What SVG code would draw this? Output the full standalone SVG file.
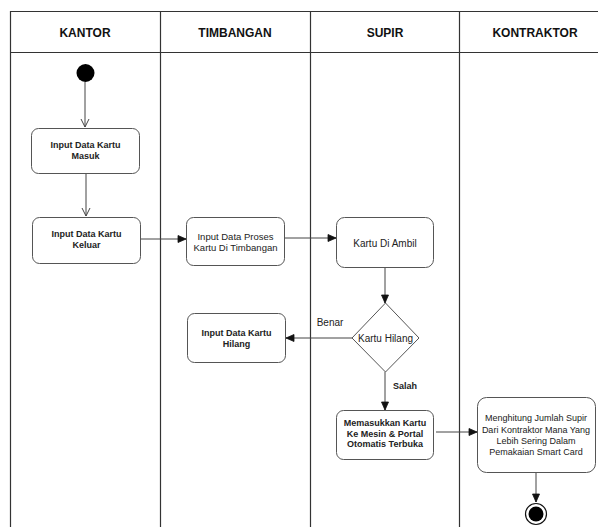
<svg xmlns="http://www.w3.org/2000/svg" width="598" height="527" viewBox="0 0 598 527">
<style>
.lane{fill:none;stroke:#333;stroke-width:1.2}
.hdr{font-family:"Liberation Sans",Arial,sans-serif;font-size:12px;font-weight:bold;fill:#111;text-anchor:middle}
.box{fill:#fff;stroke:#555;stroke-width:1}
.tb{font-family:"Liberation Sans",Arial,sans-serif;font-size:9px;font-weight:bold;fill:#222;text-anchor:middle}
.tn{font-family:"Liberation Sans",Arial,sans-serif;font-size:10px;fill:#222;text-anchor:middle}
.edge{fill:none;stroke:#444;stroke-width:1}
</style>
<defs>
<marker id="open" markerWidth="10" markerHeight="10" refX="9" refY="5" orient="auto" markerUnits="userSpaceOnUse">
<path d="M1,1 L9,5 L1,9" fill="none" stroke="#444" stroke-width="1"/>
</marker>
<marker id="block" markerWidth="10" markerHeight="10" refX="9" refY="5" orient="auto" markerUnits="userSpaceOnUse">
<path d="M1,1.5 L9,5 L1,8.5 Z" fill="#111" stroke="#111" stroke-width="0.8"/>
</marker>
</defs>
<rect width="598" height="527" fill="#fff"/>
<g id="lanes">
<path class="lane" d="M10.5,527 V11.5 H598 M10.5,52.5 H598 M160.5,11.5 V527 M310.5,11.5 V527 M459.5,11.5 V527"/>
<text class="hdr" x="85" y="37">KANTOR</text>
<text class="hdr" x="235" y="37">TIMBANGAN</text>
<text class="hdr" x="385" y="37">SUPIR</text>
<text class="hdr" x="535" y="37">KONTRAKTOR</text>
</g>
<g id="connectors">
<path class="edge" d="M85,82 V127" marker-end="url(#open)"/>
<path class="edge" d="M86,173 V216" marker-end="url(#open)"/>
<path class="edge" d="M140,239 H186" marker-end="url(#block)"/>
<path class="edge" d="M284,238 H336" marker-end="url(#block)"/>
<path class="edge" d="M385,267 V303" marker-end="url(#block)"/>
<path class="edge" d="M352,338 H286" marker-end="url(#block)"/>
<path class="edge" d="M385,372 V410" marker-end="url(#block)"/>
<path class="edge" d="M436,432 H477" marker-end="url(#block)"/>
<path class="edge" d="M536,472 V502" marker-end="url(#block)"/>
<text class="tn" x="330" y="325.5">Benar</text>
<text class="tb" x="405" y="389">Salah</text>
</g>
<g id="start"><circle cx="85.5" cy="73" r="9" fill="#000"/></g>
<g id="masuk">
<rect class="box" x="31.5" y="128.5" width="108" height="45" rx="7"/>
<text class="tb" x="85.5" y="147.5">Input Data Kartu</text>
<text class="tb" x="85.5" y="158.5">Masuk</text>
</g>
<g id="keluar">
<rect class="box" x="32.5" y="217.5" width="108" height="46" rx="7"/>
<text class="tb" x="86.5" y="236.5">Input Data Kartu</text>
<text class="tb" x="86.5" y="247.5">Keluar</text>
</g>
<g id="proses">
<rect class="box" x="186.5" y="217.5" width="98" height="48" rx="7"/>
<text class="tn" x="235.5" y="239.5" style="font-size:9.5px">Input Data Proses</text>
<text class="tn" x="235.5" y="250.5" style="font-size:9.5px">Kartu Di Timbangan</text>
</g>
<g id="ambil">
<rect class="box" x="336.5" y="217.5" width="97" height="50" rx="8"/>
<text class="tn" x="385" y="246.5">Kartu Di Ambil</text>
</g>
<g id="hilang-decision">
<polygon class="box" points="385.5,303 419,338 385.5,372 352,338"/>
<text class="tn" x="385.5" y="341.5">Kartu Hilang</text>
</g>
<g id="hilang">
<rect class="box" x="187.5" y="313.5" width="98" height="49" rx="7"/>
<text class="tb" x="236.5" y="336">Input Data Kartu</text>
<text class="tb" x="236.5" y="346.5">Hilang</text>
</g>
<g id="memasukkan">
<rect class="box" x="336.5" y="410.5" width="97" height="49" rx="7"/>
<text class="tb" x="385" y="426">Memasukkan Kartu</text>
<text class="tb" x="385" y="436.5">Ke Mesin &amp; Portal</text>
<text class="tb" x="385" y="447">Otomatis Terbuka</text>
</g>
<g id="menghitung">
<rect class="box" x="477.5" y="397.5" width="118" height="75" rx="9"/>
<text class="tn" x="536" y="421" style="font-size:9px">Menghitung Jumlah Supir</text>
<text class="tn" x="536" y="432.5" style="font-size:9px">Dari Kontraktor Mana Yang</text>
<text class="tn" x="536" y="444" style="font-size:9px">Lebih Sering Dalam</text>
<text class="tn" x="536" y="455" style="font-size:9px">Pemakaian Smart Card</text>
</g>
<g id="end">
<circle cx="536" cy="514" r="10.5" fill="#fff" stroke="#111" stroke-width="1.2"/>
<circle cx="536" cy="514" r="7.5" fill="#000"/>
</g>
</svg>
